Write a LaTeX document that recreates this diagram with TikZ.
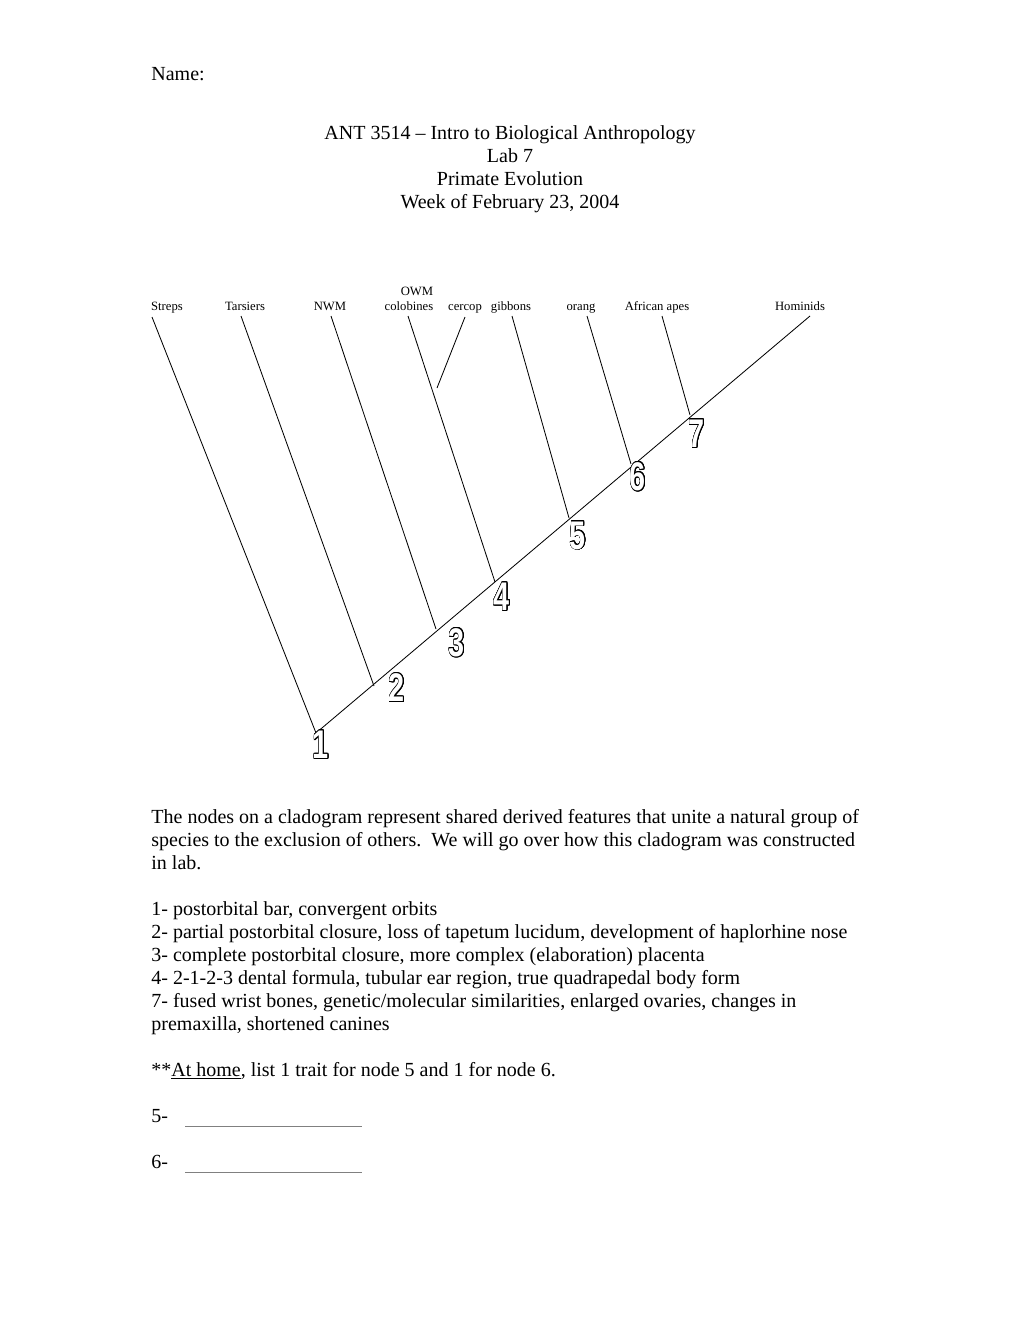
\documentclass[tikz,border=0pt]{standalone}
\usepackage{fontspec}
\setmainfont{Liberation Serif}
\newfontfamily\numfont{Liberation Sans}
\usepackage{contour}
\contourlength{0.4pt}
\contournumber{24}

\newcommand{\hollownum}[1]{\scalebox{0.72}[1]{\numfont\bfseries\fontsize{24}{24}\selectfont\textcolor{white}{\contour{black}{#1}}}}

\begin{document}
\begin{tikzpicture}[x=0.6pt,y=-0.6pt,line width=0.5pt,
	taxon/.style={font=\fontsize{7.6}{9}\selectfont,inner sep=0pt,anchor=base},
	clade num/.style={inner sep=0pt},
	body line/.style={font=\fontsize{12}{14}\selectfont,inner sep=0pt,anchor=base west},
	head line/.style={font=\fontsize{12}{14}\selectfont,inner sep=0pt,anchor=base}]

	\useasboundingbox (0,0) rectangle (1020,1320);

	% heading
	\node[body line] (name) at (151,80) {Name:};
	\node[head line] (title) at (510,139) {ANT 3514 -- Intro to Biological Anthropology};
	\node[head line] (lab) at (510,162) {Lab 7};
	\node[head line] (topic) at (510,185) {Primate Evolution};
	\node[head line] (week) at (510,208) {Week of February 23, 2004};

	% taxa along the top
	\node[taxon] (streps) at (167,310) {Streps};
	\node[taxon] (tars) at (245,310) {Tarsiers};
	\node[taxon] (nwm) at (330,310) {NWM};
	\node[taxon] (owm) at (417,295) {OWM};
	\node[taxon] (colob) at (409,310) {colobines};
	\node[taxon] (cercop) at (465,310) {cercop};
	\node[taxon] (gibb) at (511,310) {gibbons};
	\node[taxon] (orang) at (581,310) {orang};
	\node[taxon] (afr) at (657,310) {African apes};
	\node[taxon] (homin) at (800,310) {Hominids};

	% branch tops and clade points
	\coordinate (tStreps) at (152,317);
	\coordinate (tTars) at (241,316);
	\coordinate (tNwm) at (331,316);
	\coordinate (tColob) at (408,316);
	\coordinate (tCercop) at (465,317);
	\coordinate (eCercop) at (437,388);
	\coordinate (tGibb) at (512,316);
	\coordinate (tOrang) at (587,316);
	\coordinate (tAfr) at (662,316);
	\coordinate (tHomin) at (810,316);

	\coordinate (c1) at (316,733);
	\coordinate (c2) at (374,686);
	\coordinate (c3) at (436,629);
	\coordinate (c4) at (495,582);
	\coordinate (c5) at (569,518);
	\coordinate (c6) at (631,464);
	\coordinate (c7) at (690,415);

	% the tree
	\draw (c1) -- (tHomin);
	\draw (tStreps) -- (c1);
	\draw (tTars) -- (c2);
	\draw (tNwm) -- (c3);
	\draw (tColob) -- (c4);
	\draw (tCercop) -- (eCercop);
	\draw (tGibb) -- (c5);
	\draw (tOrang) -- (c6);
	\draw (tAfr) -- (c7);

	% node numbers
	\node[clade num] (n1) at (321,745) {\hollownum{1}};
	\node[clade num] (n2) at (397,688) {\hollownum{2}};
	\node[clade num] (n3) at (457,643) {\hollownum{3}};
	\node[clade num] (n4) at (502,597) {\hollownum{4}};
	\node[clade num] (n5) at (578,536) {\hollownum{5}};
	\node[clade num] (n6) at (638,477) {\hollownum{6}};
	\node[clade num] (n7) at (697,434) {\hollownum{7}};

	% text below
	\node[body line] (p1) at (151,823) {The nodes on a cladogram represent shared derived features that unite a natural group of};
	\node[body line] (p2) at (151,846) {species to the exclusion of others.\ \ We will go over how this cladogram was constructed};
	\node[body line] (p3) at (151,869) {in lab.};

	\node[body line] (f1) at (151,915) {1- postorbital bar, convergent orbits};
	\node[body line] (f2) at (151,938) {2- partial postorbital closure, loss of tapetum lucidum, development of haplorhine nose};
	\node[body line] (f3) at (151,961) {3- complete postorbital closure, more complex (elaboration) placenta};
	\node[body line] (f4) at (151,984) {4- 2-1-2-3 dental formula, tubular ear region, true quadrapedal body form};
	\node[body line] (f7) at (151,1007) {7- fused wrist bones, genetic/molecular similarities, enlarged ovaries, changes in};
	\node[body line] (f7b) at (151,1030) {premaxilla, shortened canines};

	\node[body line] (home) at (151,1076) {**\underline{At home}, list 1 trait for node 5 and 1 for node 6.};

	\node[body line] (q5) at (151,1122) {5-};
	\node[body line] (q6) at (151,1168) {6-};
	\draw[gray] (185,1126) -- (362,1126);
	\draw[gray] (185,1172) -- (362,1172);

\end{tikzpicture}
\end{document}
